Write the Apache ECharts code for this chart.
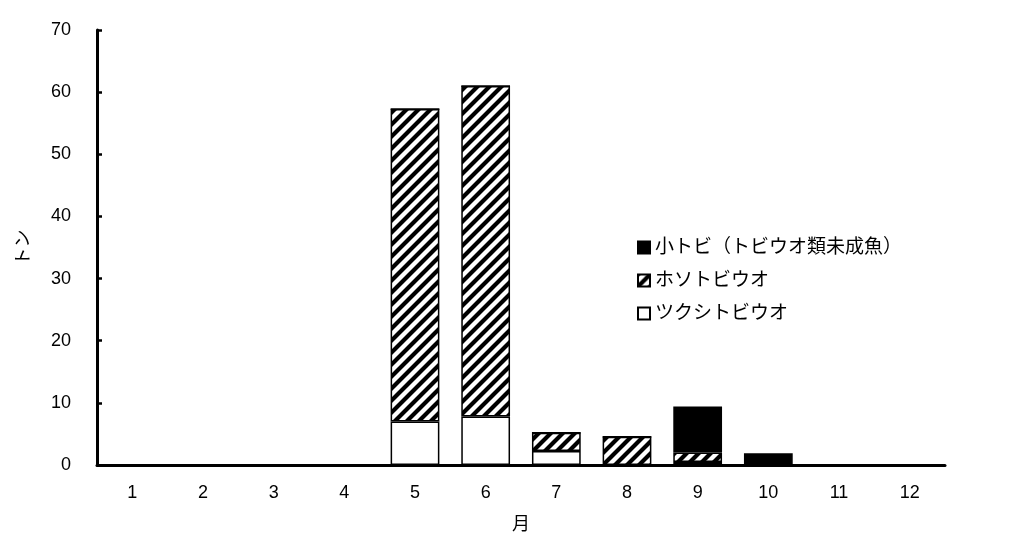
<!DOCTYPE html>
<html>
<head>
<meta charset="utf-8">
<script src="https://cdn.jsdelivr.net/npm/echarts@6/dist/echarts.min.js"></script>
<style>
html,body{margin:0;padding:0;background:#fff;}
#chart{width:1012px;height:554px;}
</style>
</head>
<body>
<div id="chart"></div>
<script>
// 月別の魚種別水揚量（トン）
var months = ['1','2','3','4','5','6','7','8','9','10','11','12'];
var tsukushi = [0, 0, 0, 0, 7.0, 7.8, 2.25, 0, 0.5, 0, 0, 0];
var hoso     = [0, 0, 0, 0, 50.3, 53.2, 2.95, 4.55, 1.5, 0, 0, 0];
var kotobi   = [0, 0, 0, 0, 0, 0, 0, 0, 7.4, 1.9, 0, 0];
var yTicks = [0, 10, 20, 30, 40, 50, 60, 70];

var FONT = '"Liberation Sans", Arial, "Noto Sans CJK JP", sans-serif';

// 斜線パターン
function makeHatch() {
    var c = document.createElement('canvas');
    c.width = 12; c.height = 12;
    var ctx = c.getContext('2d');
    ctx.fillStyle = '#fff';
    ctx.fillRect(0, 0, 12, 12);
    ctx.strokeStyle = '#000';
    ctx.lineWidth = 4.2;
    ctx.beginPath();
    ctx.moveTo(-3, 15); ctx.lineTo(15, -3);
    ctx.moveTo(-9, 9); ctx.lineTo(9, -9);
    ctx.moveTo(3, 21); ctx.lineTo(21, 3);
    ctx.stroke();
    return c;
}
var hatch = makeHatch();

var chart = echarts.init(document.getElementById('chart'));
var barBorder = {borderColor: '#000', borderWidth: 1.5};

var option = {
    animation: false,
    backgroundColor: '#fff',
    textStyle: {fontFamily: FONT},
    grid: {left: 97, right: 67, top: 30, bottom: 89},
    legend: {
        orient: 'vertical',
        left: 632,
        top: 233,
        itemGap: 14,
        itemWidth: 12,
        itemHeight: 12,
        icon: 'rect',
        data: ['小トビ（トビウオ類未成魚）', 'ホソトビウオ', 'ツクシトビウオ'],
        textStyle: {fontSize: 19, color: '#000', fontFamily: FONT}
    },
    xAxis: {
        type: 'category',
        data: months,
        name: '月',
        nameLocation: 'middle',
        nameGap: 51,
        nameTextStyle: {fontSize: 18, color: '#000'},
        axisLine: {lineStyle: {color: '#000', width: 3}},
        axisTick: {inside: true, length: 6, lineStyle: {color: '#000', width: 2.5}},
        axisLabel: {fontSize: 18, color: '#000', margin: 19}
    },
    yAxis: {
        type: 'value',
        min: yTicks[0],
        max: yTicks[yTicks.length - 1],
        interval: 10,
        name: 'トン',
        nameLocation: 'middle',
        nameGap: 64,
        nameRotate: 90,
        nameTextStyle: {fontSize: 18, color: '#000'},
        splitLine: {show: false},
        axisLine: {show: true, lineStyle: {color: '#000', width: 3}},
        axisTick: {show: true, inside: true, length: 5, lineStyle: {color: '#000', width: 2.5}},
        axisLabel: {fontSize: 18, color: '#000', margin: 26}
    },
    series: [
        {
            name: 'ツクシトビウオ', type: 'bar', stack: 'catch', barWidth: '69%',
            data: tsukushi,
            itemStyle: Object.assign({color: '#fff'}, barBorder)
        },
        {
            name: 'ホソトビウオ', type: 'bar', stack: 'catch', barWidth: '69%',
            data: hoso,
            itemStyle: Object.assign({color: {image: hatch, repeat: 'repeat'}}, barBorder)
        },
        {
            name: '小トビ（トビウオ類未成魚）', type: 'bar', stack: 'catch', barWidth: '69%',
            data: kotobi,
            itemStyle: Object.assign({color: '#000'}, barBorder)
        }
    ]
};
chart.setOption(option);
</script>
</body>
</html>
